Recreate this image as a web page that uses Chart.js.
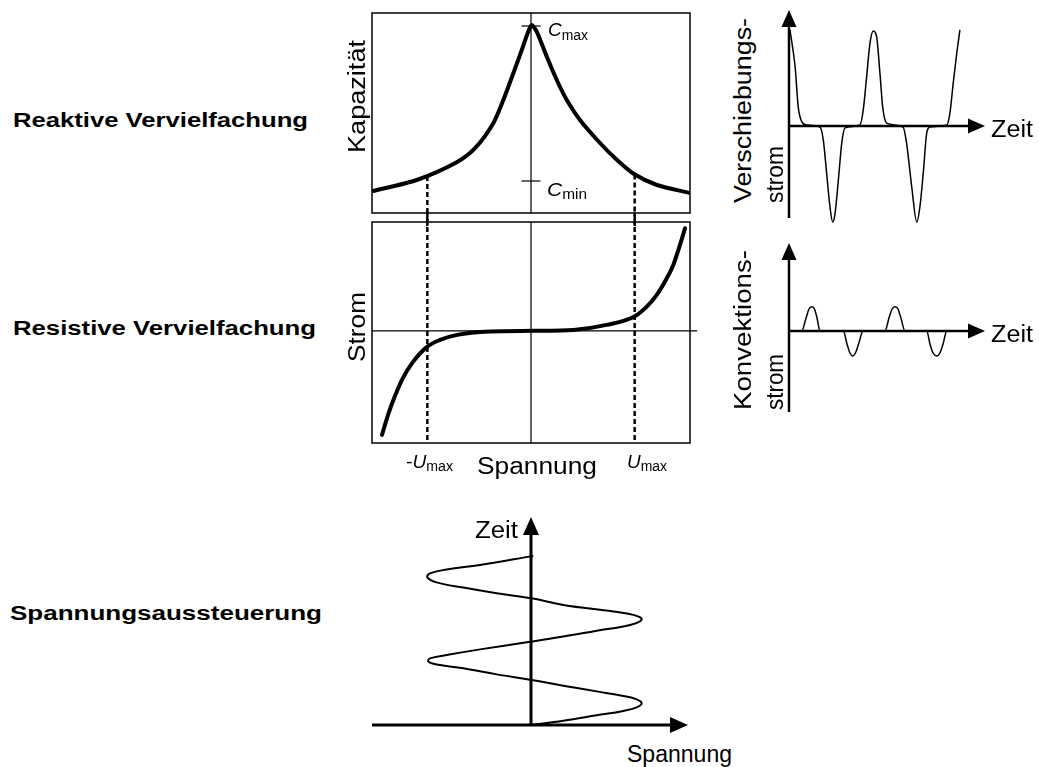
<!DOCTYPE html>
<html><head><meta charset="utf-8">
<script src="https://cdn.jsdelivr.net/npm/chart.js@4.4.1/dist/chart.umd.min.js"></script>
<style>
html,body{margin:0;padding:0;background:#fff;}
body{width:1039px;height:767px;position:relative;overflow:hidden;font-family:"Liberation Sans",Arial,Helvetica,sans-serif;color:#000;}
canvas{position:absolute;}
.lb{position:absolute;white-space:nowrap;line-height:1;}
</style></head><body>
<canvas id="cKap" width="360" height="226" style="left:340px;top:0px"></canvas>
<canvas id="cStrom" width="360" height="240" style="left:340px;top:212px"></canvas>
<canvas id="cVer" width="220" height="230" style="left:780px;top:0px"></canvas>
<canvas id="cKon" width="220" height="190" style="left:780px;top:232px"></canvas>
<canvas id="cSp" width="340" height="235" style="left:360px;top:505px"></canvas>
<script>
// ---------- data ----------
// Kapazität vs. Spannung (normalised: Spannung -1..1, Kapazität 0..1)
const kapSpannung = [-0.992,-0.719,-0.467,-0.352,-0.237,-0.174,-0.111,-0.058,-0.017,0.004,0.036,0.099,0.162,0.225,0.308,0.434,0.541,0.648,0.792,1.0];
const kapazitaet  = [0.11,0.165,0.254,0.324,0.449,0.565,0.699,0.815,0.907,0.94,0.907,0.782,0.665,0.565,0.465,0.35,0.265,0.195,0.14,0.10];
const cMax = 0.935, cMin = 0.16;
const uMax = 0.652;
// Strom vs. Spannung
const stromSpannung = [-0.937,-0.899,-0.855,-0.805,-0.742,-0.654,-0.572,-0.465,-0.258,0.014,0.266,0.476,0.650,0.728,0.791,0.854,0.895,0.937,0.969];
const strom         = [-0.955,-0.771,-0.597,-0.432,-0.285,-0.147,-0.083,-0.037,-0.006,0,0.009,0.055,0.131,0.223,0.331,0.484,0.606,0.79,0.943];
// Verschiebungsstrom vs. Zeit
const zeitVer = [0.05,0.31,0.47,0.65,0.90,1.58,1.75,1.92,2.09,2.23,2.35,2.52,2.69,2.86,3.62,3.79,3.96,4.13,4.30,4.47,4.64,4.78,4.98,5.82,6.00,6.26,6.52,6.68,6.85,7.03,7.19,8.05,8.21,8.38,8.56,8.72];
const verschiebungsstrom = [1.0,0.62,0.20,0.045,0.01,-0.01,-0.146,-0.49,-0.84,-1.0,-0.91,-0.56,-0.18,-0.02,0.01,0.17,0.51,0.86,0.99,0.93,0.55,0.20,0.03,-0.01,-0.18,-0.63,-1.0,-0.84,-0.49,-0.07,-0.01,0.01,0.135,0.45,0.76,1.0];
// Konvektionsstrom vs. Zeit
const zeitKon = [0,0.65,0.87,1.02,1.16,1.30,1.43,1.58,2.77,2.96,3.11,3.25,3.39,3.55,3.78,4.90,5.10,5.26,5.41,5.56,5.71,5.92,7.03,7.19,7.35,7.54,7.70,7.86,8.05,9.0];
const konvektionsstrom = [0,0,0.52,0.88,0.97,0.88,0.52,0,0,-0.52,-0.88,-1.0,-0.88,-0.52,0,0,0.52,0.88,0.97,0.88,0.52,0,0,-0.52,-0.88,-1.0,-0.88,-0.52,0,0];
// Spannungsaussteuerung: Spannung vs. Zeit
const aussteuerSpannung = [0,0.291,0.592,0.832,0.952,0.997,0.952,0.832,0.592,0.291,0.006,-0.309,-0.61,-0.85,-0.925,-0.91,-0.76,-0.459,0.006,0.291,0.592,0.892,0.997,0.922,0.741,0.291,0.006,-0.309,-0.61,-0.85,-0.934,-0.91,-0.76,-0.459,0.021];
const aussteuerZeit     = [0,0.2,0.46,0.67,0.84,1.03,1.22,1.38,1.60,1.87,2.14,2.41,2.70,2.88,3.02,3.17,3.33,3.60,3.97,4.21,4.49,4.76,5.03,5.24,5.40,5.71,6.03,6.27,6.54,6.79,7.03,7.22,7.40,7.62,8.05];

// ---------- helpers ----------
const pts = (xs, ys) => xs.map((x,i)=>({x, y: ys[i]}));
const line = (data, o={}) => Object.assign({data, showLine:true, borderColor:'#000', backgroundColor:'#000', pointRadius:0, borderWidth:1, fill:false, tension:0}, o);

const framePlugin = {
  id:'frame',
  beforeDatasetsDraw(chart, args, opts){
    if(!opts || !opts.show) return;
    const a = chart.chartArea, ctx = chart.ctx;
    ctx.save(); ctx.strokeStyle='#000'; ctx.lineWidth = opts.width || 1.5;
    ctx.strokeRect(a.left, a.top, a.right-a.left, a.bottom-a.top);
    ctx.restore();
  }
};
const arrowPlugin = {
  id:'arrows',
  afterDatasetsDraw(chart, args, opts){
    if(!opts || !opts.list) return;
    const ctx = chart.ctx, sx = chart.scales.x, sy = chart.scales.y;
    opts.list.forEach(a=>{
      const x1 = sx.getPixelForValue(a.from[0]), y1 = sy.getPixelForValue(a.from[1]);
      const x2 = sx.getPixelForValue(a.to[0]),   y2 = sy.getPixelForValue(a.to[1]);
      const ang = Math.atan2(y2-y1, x2-x1), c = Math.cos(ang), s = Math.sin(ang);
      const L = opts.head, H = opts.half;
      ctx.save(); ctx.strokeStyle='#000'; ctx.fillStyle='#000'; ctx.lineWidth = opts.width;
      ctx.beginPath(); ctx.moveTo(x1,y1); ctx.lineTo(x2-L*c, y2-L*s); ctx.stroke();
      ctx.beginPath(); ctx.moveTo(x2,y2);
      ctx.lineTo(x2-L*c - H*s, y2-L*s + H*c);
      ctx.lineTo(x2-L*c + H*s, y2-L*s - H*c);
      ctx.closePath(); ctx.fill();
      ctx.restore();
    });
  }
};

function mkChart(id, pad, xr, yr, datasets, plug){
  return new Chart(document.getElementById(id), {
    type:'scatter',
    data:{datasets},
    options:{
      responsive:false, animation:false, devicePixelRatio:1,
      layout:{padding:pad},
      events:[],
      plugins:Object.assign({legend:{display:false}, tooltip:{enabled:false}}, plug||{}),
      scales:{
        x:{type:'linear', display:false, min:xr[0], max:xr[1]},
        y:{type:'linear', display:false, min:yr[0], max:yr[1]}
      }
    },
    plugins:[framePlugin, arrowPlugin]
  });
}

// Kapazität
mkChart('cKap', {left:32,right:10,top:13,bottom:13}, [-1,1], [0,1], [
  line([{x:0,y:0},{x:0,y:1}], {borderWidth:1.2}),
  line([{x:-0.06,y:cMax},{x:0.06,y:cMax}], {borderWidth:1.2}),
  line([{x:-0.06,y:cMin},{x:0.06,y:cMin}], {borderWidth:1.2}),
  line([{x:-uMax,y:0.185},{x:-uMax,y:-0.07}], {borderWidth:2.5, borderDash:[5,3], clip:false}),
  line([{x:uMax,y:0.193},{x:uMax,y:-0.07}], {borderWidth:2.5, borderDash:[5,3], clip:false}),
  line(pts(kapSpannung, kapazitaet), {borderWidth:4, tension:0.25, borderCapStyle:'round', borderJoinStyle:'round'})
], {frame:{show:true, width:1.5}});

// Strom
mkChart('cStrom', {left:32,right:10,top:10,bottom:9}, [-1,1], [-1.03,1], [
  line([{x:0,y:-1.03},{x:0,y:1}], {borderWidth:1.2}),
  line([{x:-1,y:0},{x:1.045,y:0}], {borderWidth:1.2, clip:false}),
  line([{x:-uMax,y:1.1},{x:-uMax,y:-1.03}], {borderWidth:2.5, borderDash:[5,3], clip:false}),
  line([{x:uMax,y:1.1},{x:uMax,y:-1.03}], {borderWidth:2.5, borderDash:[5,3], clip:false}),
  line(pts(stromSpannung, strom), {borderWidth:4, cubicInterpolationMode:'monotone', borderCapStyle:'round', borderJoinStyle:'round'})
], {frame:{show:true, width:1.5}});

// Verschiebungsstrom
mkChart('cVer', {left:9,right:15,top:10,bottom:12}, [0,10], [-0.958,1.208], [
  line(pts(zeitVer, verschiebungsstrom), {borderWidth:1.5, cubicInterpolationMode:'monotone', clip:false})
], {arrows:{width:2.5, head:17, half:7.5, list:[{from:[0,-0.958],to:[0,1.208]},{from:[0,0],to:[10,0]}]}});

// Konvektionsstrom
mkChart('cKon', {left:9,right:15,top:11,bottom:10}, [0,10], [-3.24,3.52], [
  line(pts(zeitKon, konvektionsstrom), {borderWidth:1.5, cubicInterpolationMode:'monotone', clip:false})
], {arrows:{width:2.5, head:17, half:7.5, list:[{from:[0,-3.24],to:[0,3.52]},{from:[0,0],to:[10,0]}]}});

// Spannungsaussteuerung
mkChart('cSp', {left:12,right:12,top:12,bottom:15}, [-1.432,1.414], [0,9.9], [
  line(pts(aussteuerSpannung, aussteuerZeit), {borderWidth:2, tension:0.4, clip:false})
], {arrows:{width:3, head:18, half:8, list:[{from:[0,0],to:[0,9.9]},{from:[-1.432,0],to:[1.414,0]}]}});

// ---------- labels (real text) ----------
function label(parts, o){
  const el = document.createElement('div');
  el.className = 'lb';
  parts.forEach(p=>{
    const s = document.createElement('span');
    s.textContent = p.t;
    s.style.fontSize = p.fs + 'px';
    if(p.b) s.style.fontWeight = 'bold';
    if(p.i) s.style.fontStyle = 'italic';
    if(p.dy) { s.style.position='relative'; s.style.top = p.dy + 'px'; }
    el.appendChild(s);
  });
  const mk = document.createElement('span');
  mk.style.cssText = 'display:inline-block;width:0;height:0;vertical-align:baseline';
  el.appendChild(mk);
  document.body.appendChild(el);
  const r = el.getBoundingClientRect();
  const base = mk.getBoundingClientRect().top - r.top;
  const w = r.width;
  el.style.transformOrigin = '0 ' + base + 'px';
  if(o.rot){
    const sc = (o.y1 - o.y0) / w;
    el.style.left = o.bx + 'px';
    el.style.top = (o.y1 - base) + 'px';
    el.style.transform = 'rotate(-90deg) scaleX(' + sc + ')';
  } else {
    const sc = (o.x1 - o.x0) / w;
    el.style.left = o.x0 + 'px';
    el.style.top = (o.by - base) + 'px';
    el.style.transform = 'scaleX(' + sc + ')';
  }
}
const T = (t, fs, extra) => Object.assign({t, fs}, extra||{});

label([T('Reaktive Vervielfachung',20,{b:1})], {x0:13, x1:308, by:127});
label([T('Resistive Vervielfachung',20,{b:1})], {x0:13, x1:316, by:335});
label([T('Spannungsaussteuerung',20,{b:1})], {x0:10, x1:322, by:620});

label([T('Kapazität',23)], {rot:1, bx:365, y0:40, y1:153});
label([T('Strom',23)], {rot:1, bx:365, y0:292, y1:362});
label([T('Spannung',23)], {x0:477, x1:597, by:474});

label([T('Verschiebungs-',23)], {rot:1, bx:751, y0:18, y1:203});
label([T('strom',23)], {rot:1, bx:783, y0:146, y1:203});
label([T('Konvektions-',23)], {rot:1, bx:751, y0:250, y1:410});
label([T('strom',23)], {rot:1, bx:783, y0:354, y1:410});

label([T('Zeit',23)], {x0:991, x1:1033, by:137});
label([T('Zeit',23)], {x0:991, x1:1033, by:342});
label([T('Zeit',23)], {x0:475, x1:518, by:538});
label([T('Spannung',23)], {x0:627, x1:732, by:762});

label([T('C',19,{i:1}), T('max',14,{dy:4})], {x0:548, x1:588, by:36});
label([T('C',19,{i:1}), T('min',14,{dy:3})], {x0:547, x1:587, by:196});
label([T('-',19), T('U',19,{i:1}), T('max',14,{dy:3})], {x0:406, x1:453, by:468});
label([T('U',19,{i:1}), T('max',14,{dy:3})], {x0:627, x1:667, by:468});
</script>
</body></html>
